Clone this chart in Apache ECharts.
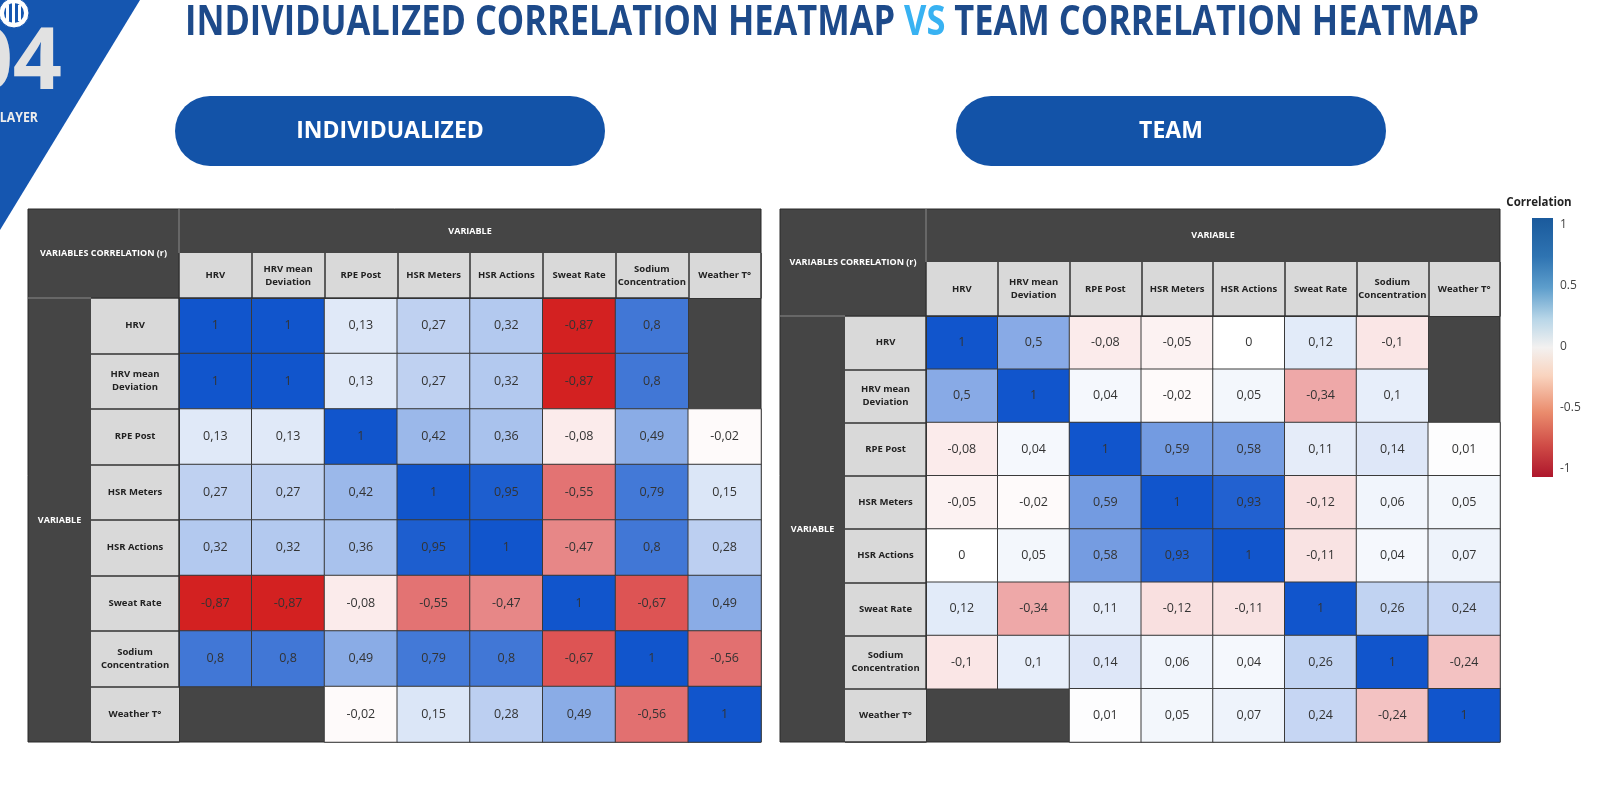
<!DOCTYPE html>
<html>
<head>
<meta charset="utf-8">
<title>Individualized vs Team Correlation Heatmap</title>
<script src="https://cdn.jsdelivr.net/npm/echarts@6/dist/echarts.min.js"></script>
<style>
html, body { margin: 0; padding: 0; background: #fff; }
#chart { width: 1600px; height: 801px; }
</style>
</head>
<body>
<div id="chart"></div>
<script>
// same variables on both axes, top-to-bottom and left-to-right
var variables = ['HRV', 'HRV mean\nDeviation', 'RPE Post', 'HSR Meters', 'HSR Actions', 'Sweat Rate', 'Sodium\nConcentration', 'Weather T°']

// correlation (r), one row per variable, null = not computed
var individualized = [
  [1, 1, 0.13, 0.27, 0.32, -0.87, 0.8, null],
  [1, 1, 0.13, 0.27, 0.32, -0.87, 0.8, null],
  [0.13, 0.13, 1, 0.42, 0.36, -0.08, 0.49, -0.02],
  [0.27, 0.27, 0.42, 1, 0.95, -0.55, 0.79, 0.15],
  [0.32, 0.32, 0.36, 0.95, 1, -0.47, 0.8, 0.28],
  [-0.87, -0.87, -0.08, -0.55, -0.47, 1, -0.67, 0.49],
  [0.8, 0.8, 0.49, 0.79, 0.8, -0.67, 1, -0.56],
  [null, null, -0.02, 0.15, 0.28, 0.49, -0.56, 1]
]

var team = [
  [1, 0.5, -0.08, -0.05, 0, 0.12, -0.1, null],
  [0.5, 1, 0.04, -0.02, 0.05, -0.34, 0.1, null],
  [-0.08, 0.04, 1, 0.59, 0.58, 0.11, 0.14, 0.01],
  [-0.05, -0.02, 0.59, 1, 0.93, -0.12, 0.06, 0.05],
  [0, 0.05, 0.58, 0.93, 1, -0.11, 0.04, 0.07],
  [0.12, -0.34, 0.11, -0.12, -0.11, 1, 0.26, 0.24],
  [-0.1, 0.1, 0.14, 0.06, 0.04, 0.26, 1, -0.24],
  [null, null, 0.01, 0.05, 0.07, 0.24, -0.24, 1]
]

var legendTicks = [-1, -0.5, 0, 0.5, 1]

var FONT = "'Open Sans', 'Noto Sans', sans-serif"

// table frames (pixels): outer box, header band, header row, row-label column
var tables = [
  { x0: 28, y0: 209, x1: 761, y1: 742, bandY: 253, hdrX: 179, hdrY: 298, darkX: 91, pillX: 175, pill: 'INDIVIDUALIZED' },
  { x0: 780, y0: 209, x1: 1500, y1: 742, bandY: 262, hdrX: 926, hdrY: 316, darkX: 845, pillX: 956, pill: 'TEAM' }
]

function toCells (matrix) {
  var out = []
  for (var i = 0; i < matrix.length; i++) {
    for (var j = 0; j < matrix[i].length; j++) {
      out.push([j, i, matrix[i][j] === null ? '-' : matrix[i][j]])
    }
  }
  return out
}

function fmt (v) {
  return String(v).replace('.', ',')
}

var grids = []
var xAxes = []
var yAxes = []
var series = []
var graphics = [
  // corner decoration
  { type: 'polygon', shape: { points: [[0, 0], [140, 0], [0, 230]] }, style: { fill: '#1556B0' } },
  { type: 'circle', shape: { cx: 14, cy: 13, r: 15 }, style: { fill: '#fff', stroke: '#1556B0', lineWidth: 1 } },
  { type: 'circle', shape: { cx: 14, cy: 13, r: 10 }, style: { fill: '#1556B0' } },
  { type: 'rect', shape: { x: 6, y: 5, width: 3, height: 16 }, style: { fill: '#fff' } },
  { type: 'rect', shape: { x: 12, y: 3, width: 3, height: 20 }, style: { fill: '#fff' } },
  { type: 'rect', shape: { x: 18, y: 5, width: 3, height: 16 }, style: { fill: '#fff' } },
  { type: 'text', x: 62, y: 64, style: { text: '04', align: 'right', verticalAlign: 'middle', font: 'bold 86px ' + FONT, fill: '#E2E2E2' } },
  { type: 'text', x: 38, y: 118, scaleX: 0.88, style: { text: 'PLAYER', align: 'right', verticalAlign: 'middle', font: 'bold 14px ' + FONT, fill: '#EDEDED' } },
  // title
  {
    type: 'text', x: 832, y: 23, scaleX: 0.84,
    style: {
      text: '{a|INDIVIDUALIZED CORRELATION HEATMAP }{b|VS}{a| TEAM CORRELATION HEATMAP}',
      align: 'center', verticalAlign: 'middle',
      rich: {
        a: { fontSize: 41, fontWeight: 'bold', fontFamily: FONT, fill: '#1D4A8A', color: '#1D4A8A' },
        b: { fontSize: 41, fontWeight: 'bold', fontFamily: FONT, fill: '#38B2F2', color: '#38B2F2' }
      }
    }
  },
  // colour legend
  { type: 'text', x: 1539, y: 203, style: { text: 'Correlation', align: 'center', verticalAlign: 'middle', font: 'bold 11.5px ' + FONT, fill: '#222' } },
  {
    type: 'rect', shape: { x: 1532, y: 218, width: 21, height: 259 },
    style: {
      fill: new echarts.graphic.LinearGradient(0, 0, 0, 1, [
        { offset: 0, color: '#1A5A9C' },
        { offset: 0.15, color: '#2F74B2' },
        { offset: 0.27, color: '#5E9ECC' },
        { offset: 0.39, color: '#B8D6E8' },
        { offset: 0.5, color: '#F3F1F0' },
        { offset: 0.61, color: '#F9D3BE' },
        { offset: 0.75, color: '#EA8C6D' },
        { offset: 0.88, color: '#CF4B46' },
        { offset: 1, color: '#AE162C' }
      ])
    }
  }
]

tables.forEach(function (t, k) {
  var hdrH = t.hdrY - t.bandY
  var rowLabW = t.hdrX - t.darkX

  // pill
  graphics.push({ type: 'rect', shape: { x: t.pillX, y: 96, width: 430, height: 70, r: 35 }, style: { fill: '#1353A8' } })
  graphics.push({ type: 'text', x: t.pillX + 215, y: 131, style: { text: t.pill, align: 'center', verticalAlign: 'middle', font: 'bold 23px ' + FONT, fill: '#fff' } })

  // frame
  graphics.push({ type: 'rect', shape: { x: t.x0, y: t.y0, width: t.x1 - t.x0, height: t.y1 - t.y0 }, style: { fill: '#454545', stroke: '#2a2a2a', lineWidth: 1 } })
  graphics.push({ type: 'rect', shape: { x: t.hdrX, y: t.bandY, width: t.x1 - t.hdrX, height: hdrH }, style: { fill: '#D9D9D9' } })
  graphics.push({ type: 'rect', shape: { x: t.darkX, y: t.hdrY, width: rowLabW, height: t.y1 - t.hdrY }, style: { fill: '#D9D9D9' } })
  graphics.push({ type: 'line', shape: { x1: t.hdrX, y1: t.y0, x2: t.hdrX, y2: t.bandY }, style: { stroke: '#8a8a8a', lineWidth: 1 } })
  graphics.push({ type: 'line', shape: { x1: t.x0, y1: t.hdrY, x2: t.darkX, y2: t.hdrY }, style: { stroke: '#8a8a8a', lineWidth: 1 } })
  graphics.push({ type: 'text', x: (t.x0 + t.hdrX) / 2, y: (t.y0 + t.hdrY) / 2, style: { text: 'VARIABLES CORRELATION (r)', align: 'center', verticalAlign: 'middle', font: 'bold 9px ' + FONT, fill: '#fff' } })
  graphics.push({ type: 'text', x: (t.hdrX + t.x1) / 2, y: (t.y0 + t.bandY) / 2, style: { text: 'VARIABLE', align: 'center', verticalAlign: 'middle', font: 'bold 9px ' + FONT, fill: '#fff' } })
  graphics.push({ type: 'text', x: (t.x0 + t.darkX) / 2, y: (t.hdrY + t.y1) / 2, style: { text: 'VARIABLE', align: 'center', verticalAlign: 'middle', font: 'bold 9px ' + FONT, fill: '#fff' } })

  grids.push({ left: t.hdrX, top: t.hdrY, width: t.x1 - t.hdrX, height: t.y1 - t.hdrY })

  var labelStyle = { interval: 0, fontFamily: FONT, fontWeight: 'bold', fontSize: 9.5, lineHeight: 13, color: '#222' }

  xAxes.push({
    gridIndex: k,
    type: 'category',
    data: variables,
    position: 'top',
    z: 10,
    axisLine: { show: true, lineStyle: { color: '#333', width: 1 } },
    axisTick: { show: true, length: hdrH, lineStyle: { color: '#333', width: 1.5 } },
    axisLabel: Object.assign({ margin: hdrH / 2, verticalAlign: 'middle' }, labelStyle),
    splitLine: { show: false }
  })
  yAxes.push({
    gridIndex: k,
    type: 'category',
    data: variables,
    inverse: true,
    z: 10,
    axisLine: { show: true, lineStyle: { color: '#333', width: 1 } },
    axisTick: { show: true, length: rowLabW, lineStyle: { color: '#333', width: 1.5 } },
    axisLabel: Object.assign({ margin: rowLabW / 2, align: 'center' }, labelStyle),
    splitLine: { show: false }
  })
  series.push({
    name: t.pill,
    type: 'heatmap',
    xAxisIndex: k,
    yAxisIndex: k,
    z: 5,
    data: toCells(k === 0 ? individualized : team),
    itemStyle: { borderColor: '#3a3a3a', borderWidth: 1 },
    label: {
      show: true,
      fontFamily: FONT,
      fontSize: 12.5,
      color: '#333',
      formatter: function (p) { return fmt(p.value[2]) }
    },
    emphasis: { disabled: true }
  })
})

// legend tick axis next to the colour bar
grids.push({ left: 1532, top: 225, width: 21, height: 244 })
xAxes.push({ gridIndex: 2, type: 'value', show: false })
yAxes.push({
  gridIndex: 2,
  type: 'value',
  position: 'right',
  min: legendTicks[0],
  max: legendTicks[legendTicks.length - 1],
  interval: legendTicks[1] - legendTicks[0],
  axisLine: { show: false },
  axisTick: { show: false },
  splitLine: { show: false },
  axisLabel: { margin: 7, color: '#444', fontFamily: FONT, fontSize: 12 }
})

var myChart = echarts.init(document.getElementById('chart'))
myChart.setOption({
  backgroundColor: '#fff',
  animation: false,
  tooltip: { show: false },
  grid: grids,
  xAxis: xAxes,
  yAxis: yAxes,
  visualMap: {
    type: 'continuous',
    show: false,
    min: -1,
    max: 1,
    seriesIndex: [0, 1],
    inRange: { color: ['#CC0000', '#FFFFFF', '#1155CC'] }
  },
  graphic: { elements: graphics },
  series: series
})
</script>
</body>
</html>
